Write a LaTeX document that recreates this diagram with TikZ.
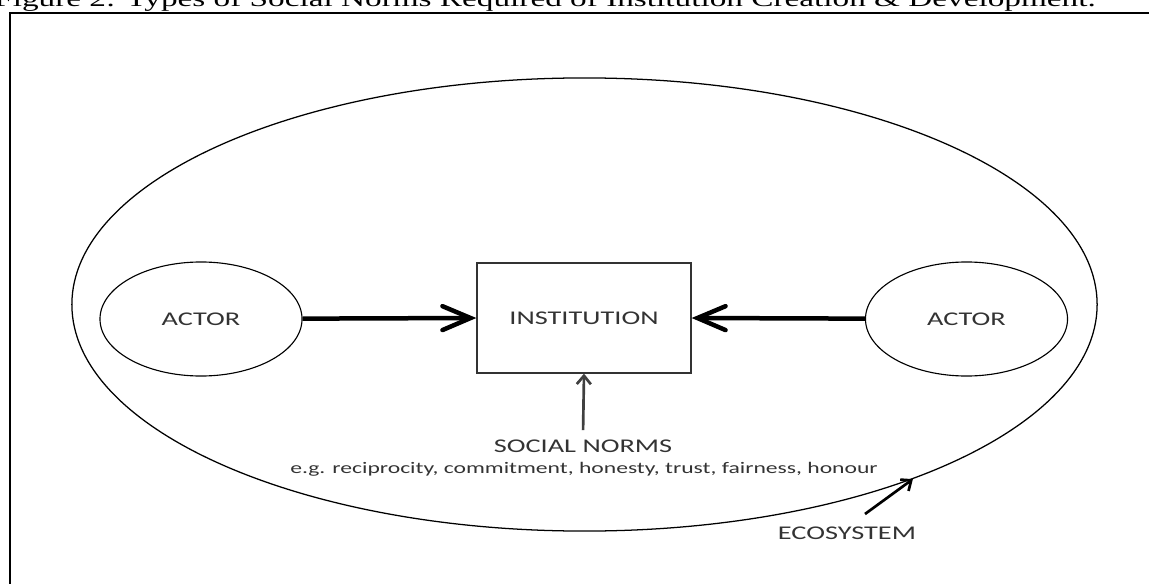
\documentclass[tikz,border=0pt]{standalone}
\usepackage{fontspec}
\newfontfamily\labelfont[FakeStretch=1.46]{Carlito}
\newfontfamily\captionfont[FakeStretch=1.46]{Liberation Serif}
\usetikzlibrary{arrows.meta,shapes.geometric}

\begin{document}
\begin{tikzpicture}[x=0.025cm, y=-0.025cm, text=black!80,
    font=\labelfont\fontsize{13.8}{16}\selectfont,
    actor/.style={shape=ellipse, draw=black, line width=0.8pt, inner sep=0pt, minimum width=5.05cm, minimum height=2.85cm},
    pull/.style={line width=3.2pt, -{Straight Barb[length=20pt, width=17pt, line cap=round]}},
    thinarrow/.style={line width=1.9pt, -{Straight Barb[length=6pt, width=10pt]}}]
    \useasboundingbox (0,0) rectangle (1149,584);
    \clip (0,0) rectangle (1149,584);
    \node[anchor=base west, inner sep=0pt, text=black, font=\captionfont\fontsize{16.2}{19}\selectfont] (caption) at (-6,7) {Figure 2: Types of Social Norms Required of Institution Creation \& Development.};
    \draw[line width=1.4pt] (10,600) -- (10,13) -- (1160,13);

    \node[shape=ellipse, draw=black, line width=0.9pt, inner sep=0pt, minimum width=25.625cm, minimum height=11.325cm] (ecosys) at (584.5,304.5) {};
    \node[actor] (actorL) at (201,319) {ACTOR};
    \node[actor] (actorR) at (966.5,319) {ACTOR};
    \node[draw=black!80, line width=0.9pt, minimum width=5.35cm, minimum height=2.75cm] (inst) at (584,318) {INSTITUTION};

    \node[anchor=base] (norms) at (583,452) {SOCIAL NORMS};
    \node[anchor=base, font=\labelfont\fontsize{11.5}{14}\selectfont] (examples) at (584,473) {e.g. reciprocity, commitment, honesty, trust, fairness, honour};
    \node[anchor=base] (eco) at (847,539) {ECOSYSTEM};
    \coordinate (ecotail) at (865,514);

    \draw[pull] (actorL) -- (inst.west);
    \draw[pull] (actorR) -- (inst.east);
    \draw[thinarrow, black!75, shorten <=3pt] (norms.north) -- (inst.south);
    \draw[thinarrow] (ecotail) -- (ecosys.-28);
\end{tikzpicture}
\end{document}
